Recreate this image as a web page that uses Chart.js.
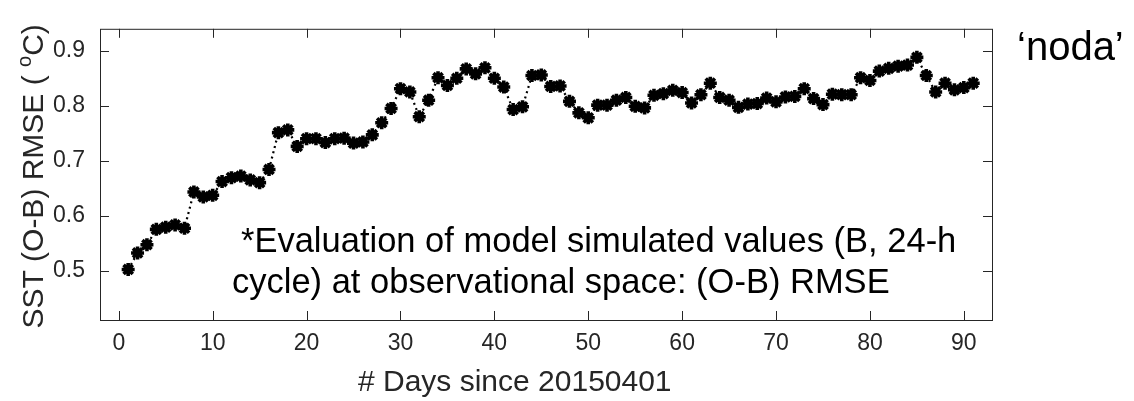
<!DOCTYPE html>
<html>
<head>
<meta charset="utf-8">
<script src="https://cdn.jsdelivr.net/npm/chart.js@4/dist/chart.umd.min.js"></script>
<style>
  html, body { margin: 0; padding: 0; background: #fff; }
  #wrap { width: 1134px; height: 401px; }
</style>
</head>
<body>
<div id="wrap"><canvas id="rmseChart" width="1134" height="401"></canvas></div>
<script>
// days since 20150401
const days = [
  1, 2, 3, 4, 5, 6, 7, 8, 9, 10, 11, 12, 13, 14, 15, 16, 17, 18, 19, 20,
  21, 22, 23, 24, 25, 26, 27, 28, 29, 30, 31, 32, 33, 34, 35, 36, 37, 38, 39, 40,
  41, 42, 43, 44, 45, 46, 47, 48, 49, 50, 51, 52, 53, 54, 55, 56, 57, 58, 59, 60,
  61, 62, 63, 64, 65, 66, 67, 68, 69, 70, 71, 72, 73, 74, 75, 76, 77, 78, 79, 80,
  81, 82, 83, 84, 85, 86, 87, 88, 89, 90, 91
];
// SST (O-B) RMSE, deg C
const rmse = [
  0.502, 0.532, 0.547, 0.575, 0.579, 0.583, 0.577, 0.643, 0.634, 0.637,
  0.662, 0.669, 0.672, 0.665, 0.660, 0.684, 0.751, 0.756, 0.726, 0.740,
  0.740, 0.733, 0.740, 0.741, 0.732, 0.734, 0.747, 0.769, 0.795, 0.831,
  0.825, 0.780, 0.810, 0.851, 0.837, 0.850, 0.867, 0.858, 0.869, 0.850,
  0.834, 0.793, 0.798, 0.855, 0.856, 0.835, 0.836, 0.808, 0.787, 0.778,
  0.801, 0.801, 0.810, 0.815, 0.799, 0.796, 0.819, 0.822, 0.828, 0.824,
  0.805, 0.820, 0.841, 0.815, 0.810, 0.797, 0.803, 0.804, 0.814, 0.807,
  0.816, 0.817, 0.831, 0.813, 0.802, 0.821, 0.820, 0.820, 0.851, 0.846,
  0.863, 0.868, 0.872, 0.874, 0.888, 0.855, 0.825, 0.841, 0.829, 0.833,
  0.841
];
const xTicks = [0, 10, 20, 30, 40, 50, 60, 70, 80, 90];
const yTicks = [0.5, 0.6, 0.7, 0.8, 0.9];

const axisColor = "#262626";
const fontFamily = "'Liberation Sans', Arial, Helvetica, sans-serif";

const points = days.map((d, i) => ({ x: d, y: rmse[i] }));

// box round the plot with inward ticks on every side, like matlab
const boxPlugin = {
  id: "boxTicks",
  afterDatasetsDraw(chart) {
    const ctx = chart.ctx;
    const a = chart.chartArea;
    const xs = chart.scales.x;
    const ys = chart.scales.y;
    const len = 9;
    ctx.save();
    ctx.strokeStyle = axisColor;
    ctx.lineWidth = 1;
    ctx.strokeRect(a.left + 0.5, a.top + 0.5, a.right - a.left, a.bottom - a.top);
    ctx.beginPath();
    xTicks.forEach(v => {
      const px = Math.round(xs.getPixelForValue(v)) + 0.5;
      ctx.moveTo(px, a.bottom);
      ctx.lineTo(px, a.bottom - len);
      ctx.moveTo(px, a.top);
      ctx.lineTo(px, a.top + len);
    });
    yTicks.forEach(v => {
      const py = Math.round(ys.getPixelForValue(v)) + 0.5;
      ctx.moveTo(a.left, py);
      ctx.lineTo(a.left + len, py);
      ctx.moveTo(a.right, py);
      ctx.lineTo(a.right - len, py);
    });
    ctx.stroke();
    ctx.restore();
  }
};

// axis titles, the note and the run name
const textPlugin = {
  id: "texts",
  afterDraw(chart) {
    const ctx = chart.ctx;
    const a = chart.chartArea;
    ctx.save();
    ctx.fillStyle = axisColor;

    // y title with superscript o
    ctx.save();
    ctx.translate(43, (a.top + a.bottom) / 2 + 2);
    ctx.rotate(-Math.PI / 2);
    ctx.textBaseline = "alphabetic";
    const big = "30px " + fontFamily;
    const small = "20px " + fontFamily;
    const p1 = "SST (O-B) RMSE ( ";
    const p2 = "o";
    const p3 = "C)";
    ctx.font = big;
    const w1 = ctx.measureText(p1).width;
    const w3 = ctx.measureText(p3).width;
    ctx.font = small;
    const w2 = ctx.measureText(p2).width;
    const total = w1 + w2 + w3;
    let x0 = -total / 2;
    ctx.font = big;
    ctx.textAlign = "left";
    ctx.fillText(p1, x0, 0);
    ctx.font = small;
    ctx.fillText(p2, x0 + w1, -12);
    ctx.font = big;
    ctx.fillText(p3, x0 + w1 + w2, 0);
    ctx.restore();

    // x title
    ctx.font = "30px " + fontFamily;
    ctx.textAlign = "left";
    ctx.textBaseline = "alphabetic";
    ctx.fillText("# Days since 20150401", 358, 391);

    // note inside the plot
    ctx.fillStyle = "#000";
    ctx.font = "34.5px " + fontFamily;
    ctx.fillText("*Evaluation of model simulated values (B, 24-h", 241, 252);
    ctx.fillText("cycle) at observational space: (O-B) RMSE", 232, 293);

    // run name
    ctx.font = "40px " + fontFamily;
    ctx.fillText("\u2018noda\u2019", 1017, 60);
    ctx.restore();
  }
};

new Chart(document.getElementById("rmseChart"), {
  type: "scatter",
  data: {
    datasets: [{
      data: points,
      showLine: true,
      borderColor: "#000",
      borderWidth: 2.2,
      borderDash: [2, 3.5],
      pointStyle: "star",
      pointRadius: 6.5,
      pointBorderWidth: 3.6,
      pointBorderColor: "#000",
      pointBackgroundColor: "#000",
      pointHoverRadius: 6.5,
      tension: 0,
      clip: false
    }]
  },
  options: {
    responsive: false,
    animation: false,
    events: [],
    layout: { padding: { left: 0, right: 142, top: 19, bottom: 0 } },
    plugins: {
      legend: { display: false },
      tooltip: { enabled: false },
      title: { display: false }
    },
    scales: {
      x: {
        type: "linear",
        min: -2,
        max: 93,
        grid: { display: false, drawTicks: false },
        border: { display: false },
        afterBuildTicks(scale) { scale.ticks = xTicks.map(v => ({ value: v })); },
        afterFit(scale) { scale.height = 81; },
        ticks: {
          color: axisColor,
          padding: 10,
          maxRotation: 0,
          font: { family: fontFamily, size: 23 },
          callback: v => String(v)
        }
      },
      y: {
        type: "linear",
        min: 0.41,
        max: 0.94,
        grid: { display: false, drawTicks: false },
        border: { display: false },
        afterBuildTicks(scale) { scale.ticks = yTicks.map(v => ({ value: v })); },
        afterFit(scale) { scale.width = 100; },
        ticks: {
          color: axisColor,
          padding: 15,
          font: { family: fontFamily, size: 23 },
          callback: v => v.toFixed(1)
        }
      }
    }
  },
  plugins: [boxPlugin, textPlugin]
});
</script>
</body>
</html>
